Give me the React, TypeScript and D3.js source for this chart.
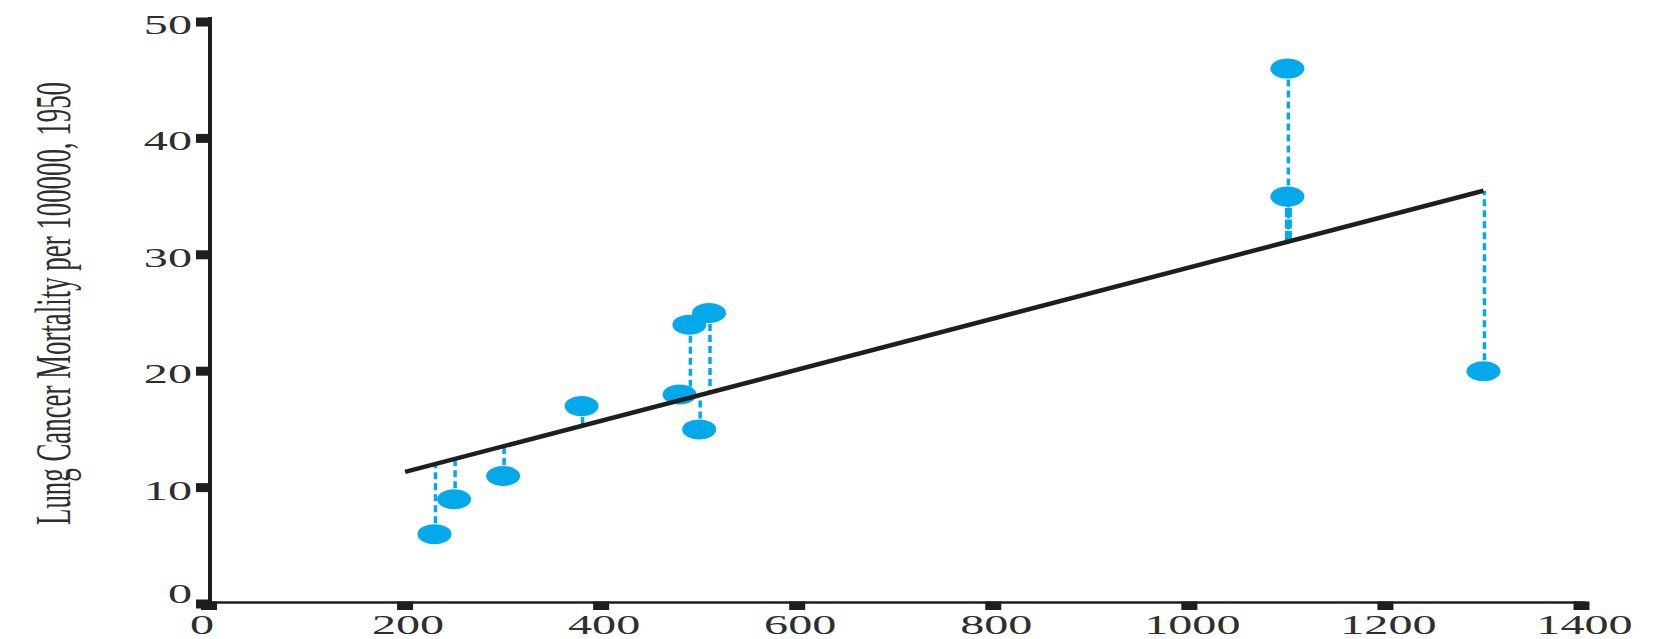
import React from "react";
import * as d3 from "d3";

const cigarettes = [230, 250, 300, 380, 480, 490, 500, 510, 1100, 1100, 1300];
const mortality = [6, 9, 11, 17, 18, 24, 15, 25, 46, 35, 20];
const fitX = [200, 1300];
const fitY = [11.35, 35.5];
const xTicks = [0, 200, 400, 600, 800, 1000, 1200, 1400];
const yTicks = [0, 10, 20, 30, 40, 50];
const yTitle = "Lung Cancer Mortality per 100000, 1950";

const W = 1672;
const H = 639;
const SX = 1.72;
const BLUE = "#03a9ea";
const INK = "#1e1e1e";
const TXT = "#2e2e2e";
const FONT = "'Liberation Serif', 'Times New Roman', serif";

export default function App() {
  const x = d3.scaleLinear().domain([0, 1400]).range([209, 1581.5]);
  const y = d3.scaleLinear().domain([0, 50]).range([604, 22]);
  const fit = d3.scaleLinear().domain(fitX).range(fitY);
  const line = d3
    .line<number>()
    .x((d) => x(d))
    .y((d, i) => y(fitY[i]));

  return (
    <svg
      width={W}
      height={H}
      viewBox={`0 0 ${W} ${H}`}
      style={{ position: "absolute", left: 0, top: 0, display: "block", background: "#fff" }}
    >
      {/* y axis */}
      <line x1={210} x2={210} y1={y(50) - 5} y2={y(0) + 1} stroke={INK} strokeWidth={4} />
      {yTicks.map((t) => (
        <rect key={"yt" + t} x={196} y={y(t) - 4.5} width={14} height={9} fill={INK} />
      ))}
      {yTicks.map((t) => (
        <text
          key={"yl" + t}
          transform={`translate(192,${t === 0 ? y(t) - 1 : y(t) + 12}) scale(${SX},1)`}
          textAnchor="end"
          fontFamily={FONT}
          fontSize={28}
          fill={TXT}
        >
          {t}
        </text>
      ))}

      {/* x axis */}
      <line x1={208} x2={x(1400) + 4} y1={602.5} y2={602.5} stroke={INK} strokeWidth={2.3} />
      {xTicks.map((t) => (
        <rect key={"xt" + t} x={x(t) - 8} y={601.5} width={16} height={8.5} fill={INK} />
      ))}
      {xTicks.map((t) => (
        <text
          key={"xl" + t}
          transform={`translate(${t === 0 ? x(t) - 7 : x(t) + 3},634) scale(${SX},1)`}
          textAnchor="middle"
          fontFamily={FONT}
          fontSize={28}
          fill={TXT}
        >
          {t}
        </text>
      ))}

      {/* y title */}
      <text
        transform={`translate(70,303.5) scale(${SX},1) rotate(-90)`}
        textAnchor="middle"
        fontFamily={FONT}
        fontSize={30}
        textLength={443}
        lengthAdjust="spacingAndGlyphs"
        fill={TXT}
      >
        {yTitle}
      </text>

      {/* points */}
      {cigarettes.map((c, i) => (
        <ellipse key={"p" + i} cx={x(c)} cy={y(mortality[i])} rx={17} ry={10} fill={BLUE} />
      ))}

      {/* residuals */}
      {cigarettes.map((c, i) => (
        <line
          key={"r" + i}
          x1={x(c) + 1}
          x2={x(c) + 1}
          y1={y(mortality[i])}
          y2={y(fit(c))}
          stroke={BLUE}
          strokeWidth={i === 9 ? 7 : 3.5}
          strokeDasharray={i === 9 ? "9 2.5" : "7 4"}
        />
      ))}

      {/* fitted line */}
      <path d={line(fitX) || ""} fill="none" stroke={INK} strokeWidth={4.5} />
    </svg>
  );
}
